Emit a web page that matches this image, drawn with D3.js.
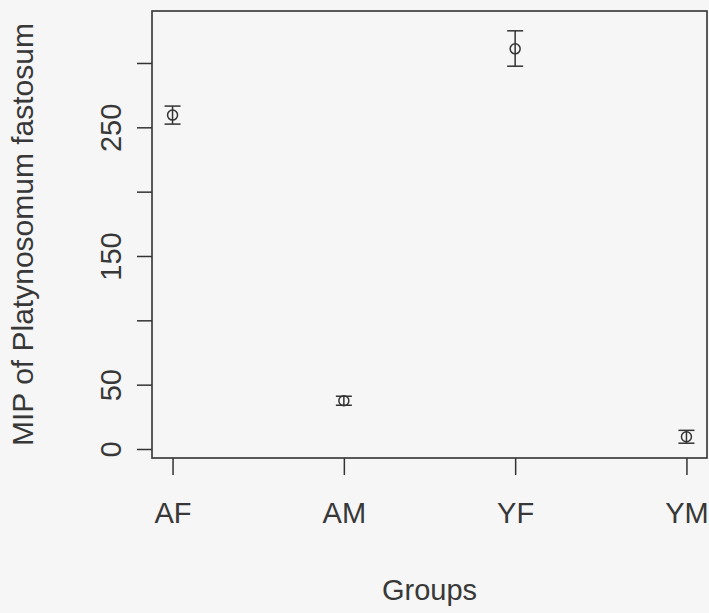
<!DOCTYPE html>
<html>
<head>
<meta charset="utf-8">
<script src="https://cdn.jsdelivr.net/npm/d3@7"></script>
<style>
  html, body { margin: 0; padding: 0; background: #f6f6f6; }
  svg { display: block; }
  text { font-family: "Liberation Sans", Arial, sans-serif; fill: #383838; }
</style>
</head>
<body>
<svg id="chart" width="709" height="613"></svg>
<script>
// Group means with their lower/upper error limits
const groups = ["AF", "AM", "YF", "YM"];
const means  = [259.5, 37.5, 311, 9.5];
const lower  = [252.5, 34, 297.5, 4.5];
const upper  = [266.5, 41, 325, 14.5];

// Axis ticks: every 50, only some carry a label
const yTicks  = [0, 50, 100, 150, 200, 250, 300];
const yLabels = [0, 50, 150, 250];
const xTitle = "Groups";
const yTitle = "MIP of Platynosomum fastosum";

const svg = d3.select("#chart");
const box = { left: 152, right: 707, top: 11, bottom: 458 };
const ink = "#333";
const fontSize = 29;

// Numeric x positions 1..4 with a 4% margin on each side
const x = d3.scaleLinear()
  .domain([1 - 0.12, groups.length + 0.12])
  .range([box.left, box.right]);
const y = d3.scaleLinear()
  .domain([-7, 340.4])
  .range([box.bottom, box.top]);

// Plot frame
svg.append("rect")
  .attr("x", box.left).attr("y", box.top)
  .attr("width", box.right - box.left).attr("height", box.bottom - box.top)
  .attr("fill", "none").attr("stroke", ink).attr("stroke-width", 1.6);

// Y axis
const yAxis = svg.append("g")
  .attr("transform", `translate(${box.left},0)`)
  .call(d3.axisLeft(y).tickValues(yTicks).tickSize(15)
    .tickFormat(d => yLabels.includes(d) ? String(d) : ""));
yAxis.select(".domain").remove();
yAxis.selectAll(".tick line").attr("stroke", ink).attr("stroke-width", 1.5);
yAxis.selectAll(".tick text")
  .attr("x", 0).attr("y", 0).attr("dy", 0)
  .attr("transform", "translate(-31,0) rotate(-90)")
  .attr("text-anchor", "middle")
  .style("font-size", fontSize + "px").style("font-family", null).attr("fill", "#383838");

// X axis
const xAxis = svg.append("g")
  .attr("transform", `translate(0,${box.bottom})`)
  .call(d3.axisBottom(x).tickValues(groups.map((g, i) => i + 1)).tickSize(17)
    .tickFormat((d, i) => groups[i]));
xAxis.select(".domain").remove();
xAxis.selectAll(".tick line").attr("stroke", ink).attr("stroke-width", 1.5);
xAxis.selectAll(".tick text")
  .attr("y", 65).attr("dy", 0)
  .style("font-size", fontSize + "px").style("font-family", null).attr("fill", "#383838");

// Axis titles
svg.append("text")
  .attr("x", (box.left + box.right) / 2).attr("y", 600)
  .attr("text-anchor", "middle")
  .style("font-size", fontSize + "px")
  .text(xTitle);
svg.append("text")
  .attr("transform", `translate(33,${(box.top + box.bottom) / 2}) rotate(-90)`)
  .attr("text-anchor", "middle")
  .style("font-size", "30px")
  .text(yTitle);

// Error bars with caps and open circles at the means
const capHalf = 8;
const marks = svg.append("g").attr("stroke", ink).attr("stroke-width", 1.5).attr("fill", "none");
groups.forEach((g, i) => {
  const cx = x(i + 1);
  marks.append("line")
    .attr("x1", cx).attr("x2", cx)
    .attr("y1", y(upper[i])).attr("y2", y(lower[i]));
  [upper[i], lower[i]].forEach(v => {
    marks.append("line")
      .attr("x1", cx - capHalf).attr("x2", cx + capHalf)
      .attr("y1", y(v)).attr("y2", y(v));
  });
  marks.append("circle")
    .attr("cx", cx).attr("cy", y(means[i])).attr("r", 5);
});
</script>
</body>
</html>
